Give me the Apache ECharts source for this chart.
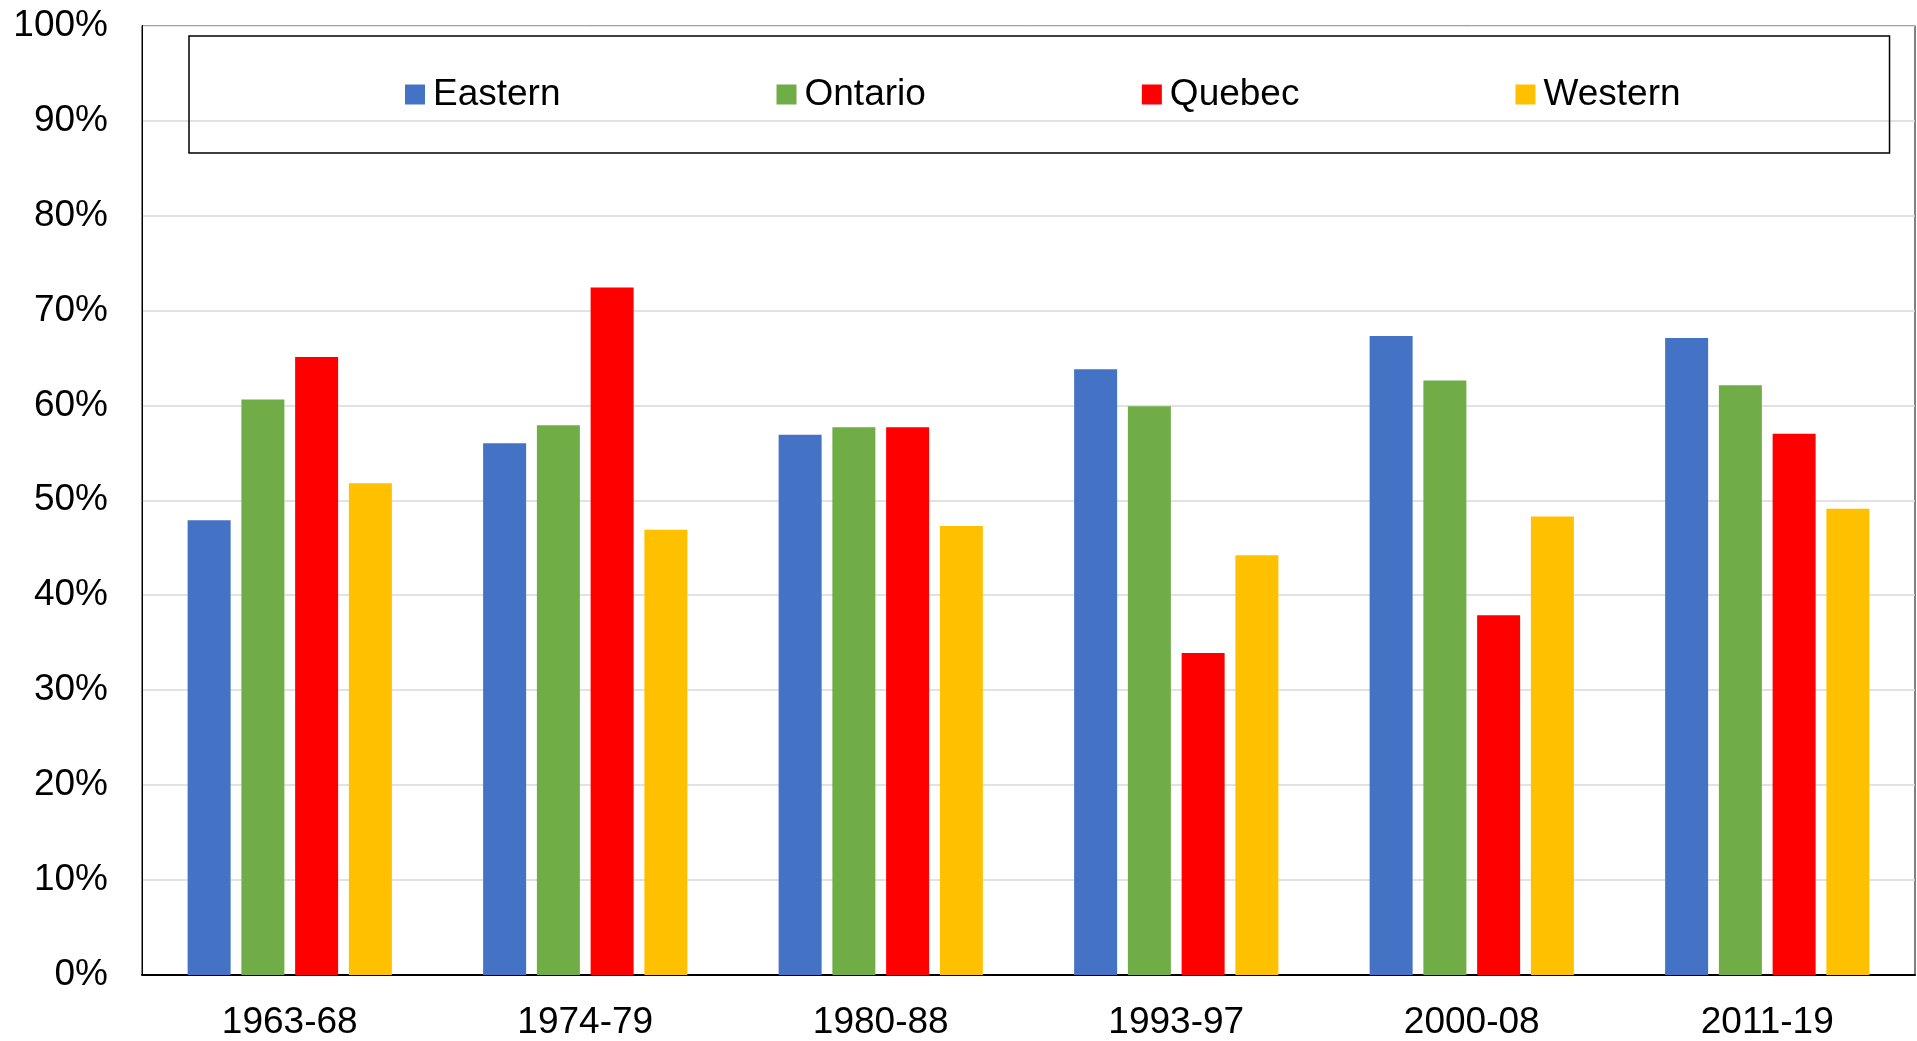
<!DOCTYPE html>
<html lang="en">
<head>
    <meta charset="UTF-8">
    <title>Regional shares</title>
    <script src="https://cdn.jsdelivr.net/npm/echarts@6/dist/echarts.min.js"></script>
    <style>
        html, body { margin: 0; padding: 0; background: #fff; }
        #chart { width: 1917px; height: 1041px; }
    </style>
</head>
<body>
    <div id="chart"></div>
    <script>
        // periods on the x axis
        var periods = ['1963-68', '1974-79', '1980-88', '1993-97', '2000-08', '2011-19'];
        // share per region, in percent
        var eastern = [47.9, 56.0, 56.9, 63.8, 67.3, 67.1];
        var ontario = [60.6, 57.9, 57.7, 59.9, 62.6, 62.1];
        var quebec = [65.1, 72.4, 57.7, 33.9, 37.9, 57.0];
        var western = [51.8, 46.9, 47.3, 44.2, 48.3, 49.1];

        var font = "'Liberation Sans', Arial, sans-serif";

        var myChart = echarts.init(document.getElementById('chart'));

        function bar(name, data, color) {
            return {
                name: name,
                type: 'bar',
                data: data,
                barWidth: 43,
                barGap: '25%',
                itemStyle: { color: color }
            };
        }

        var option = {
            animation: false,
            backgroundColor: '#fff',
            grid: {
                left: 142,
                right: 2,
                top: 25.5,
                bottom: 63,
                show: true,
                borderColor: '#000',
                borderWidth: 1
            },
            legend: {
                left: 189,
                top: 36,
                padding: [40, 209, 40, 216],
                itemGap: 216,
                itemWidth: 20,
                itemHeight: 20,
                icon: 'rect',
                borderColor: '#000',
                borderWidth: 1.5,
                textStyle: {
                    fontFamily: font,
                    fontSize: 37,
                    color: '#000',
                    padding: [3, 0, 0, 3]
                },
                data: ['Eastern', 'Ontario', 'Quebec', 'Western']
            },
            xAxis: {
                type: 'category',
                data: periods,
                axisLine: { lineStyle: { color: '#000', width: 2 } },
                axisTick: { show: false },
                axisLabel: {
                    fontFamily: font,
                    fontSize: 37,
                    color: '#000',
                    margin: 29
                }
            },
            yAxis: {
                type: 'value',
                min: 0,
                max: 100,
                interval: 10,
                axisLine: { show: true, lineStyle: { color: '#000', width: 1 } },
                axisTick: { show: false },
                splitLine: { lineStyle: { color: '#d9d9d9', width: 1.5 } },
                axisLabel: {
                    fontFamily: font,
                    fontSize: 37,
                    color: '#000',
                    margin: 34,
                    padding: [4, 0, 0, 0],
                    formatter: '{value}%'
                }
            },
            series: [
                bar('Eastern', eastern, '#4472C4'),
                bar('Ontario', ontario, '#70AD47'),
                bar('Quebec', quebec, '#FF0000'),
                bar('Western', western, '#FFC000')
            ]
        };

        myChart.setOption(option);
    </script>
</body>
</html>
